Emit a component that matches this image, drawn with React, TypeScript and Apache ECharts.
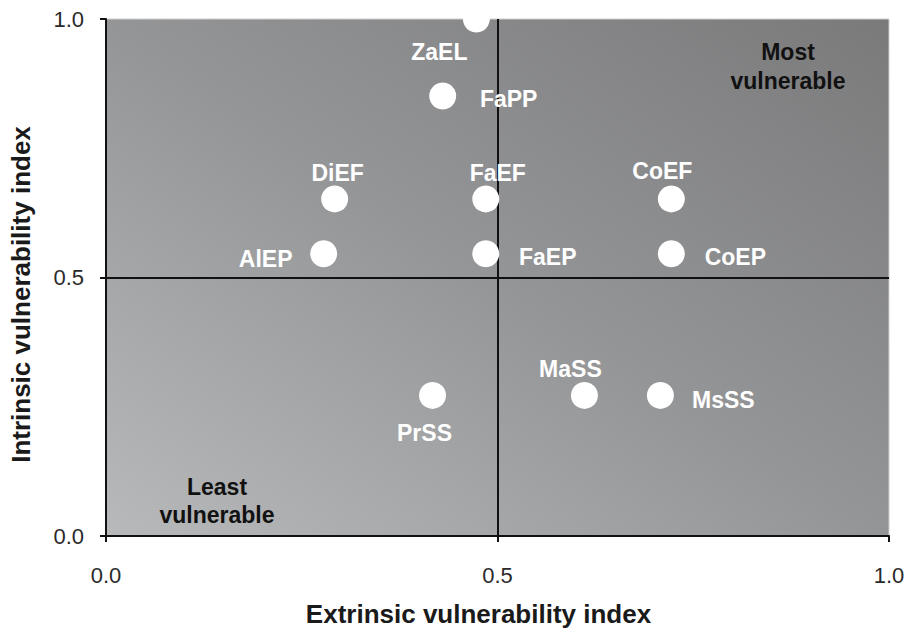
import React, { useEffect, useRef } from "react";
import * as echarts from "echarts";

const names = ["ZaEL", "FaPP", "DiEF", "FaEF", "CoEF", "AlEP", "FaEP", "CoEP", "PrSS", "MaSS", "MsSS"];
const extrinsic = [0.473, 0.430, 0.292, 0.485, 0.722, 0.278, 0.485, 0.722, 0.417, 0.611, 0.708];
const intrinsic = [1.0, 0.851, 0.652, 0.652, 0.652, 0.546, 0.546, 0.546, 0.272, 0.272, 0.272];
const labelOffsets: [number, number][] = [
  [-37, 33], [66, 3], [3, -26], [12, -26], [-9, -28], [-58, 5], [62, 3], [64, 3], [-8, 38], [-14, -26], [63, 5],
];
const axisTicks = [0, 0.5, 1];

export default function App() {
  const ref = useRef<HTMLDivElement>(null);
  useEffect(() => {
    if (!ref.current) return;
    const chart = echarts.init(ref.current, null, { renderer: "svg" });
    const font = "'Liberation Sans', Arial, Helvetica, sans-serif";
    const data = names.map((n, i) => ({
      name: n,
      value: [extrinsic[i], intrinsic[i]],
      label: { offset: labelOffsets[i] },
    }));
    chart.setOption({
      animation: false,
      textStyle: { fontFamily: font },
      grid: {
        left: 104,
        right: 21,
        top: 19,
        bottom: 94,
        show: true,
        borderColor: "#cfcfcf",
        borderWidth: 1,
        backgroundColor: new echarts.graphic.LinearGradient(0, 1, 1, 0, [
          { offset: 0, color: "#b8b9bb" },
          { offset: 0.5, color: "#949597" },
          { offset: 1, color: "#7a7a7b" },
        ]),
      },
      xAxis: {
        type: "value",
        min: axisTicks[0],
        max: axisTicks[2],
        interval: 0.5,
        name: "Extrinsic vulnerability index",
        nameLocation: "middle",
        nameGap: 65,
        nameTextStyle: {
          fontSize: 26,
          fontWeight: "bold",
          color: "#1a1a1a",
          fontFamily: font,
          padding: [0, 38, 0, 0],
        },
        axisLine: { show: true, lineStyle: { color: "#111", width: 2 } },
        axisTick: { show: true, length: 6, lineStyle: { color: "#111", width: 2 } },
        axisLabel: { fontSize: 22, color: "#2a2a2a", margin: 28, formatter: (v: number) => v.toFixed(1), fontFamily: font },
        splitLine: { show: false },
      },
      yAxis: {
        type: "value",
        min: axisTicks[0],
        max: axisTicks[2],
        interval: 0.5,
        name: "Intrinsic vulnerability index",
        nameLocation: "middle",
        nameGap: 72,
        nameTextStyle: {
          fontSize: 26,
          fontWeight: "bold",
          color: "#1a1a1a",
          fontFamily: font,
          padding: [0, 34, 0, 0],
        },
        axisLine: { show: true, lineStyle: { color: "#111", width: 2 } },
        axisTick: { show: true, length: 6, lineStyle: { color: "#111", width: 2 } },
        axisLabel: { fontSize: 22, color: "#2a2a2a", margin: 22, formatter: (v: number) => v.toFixed(1), fontFamily: font },
        splitLine: { show: false },
      },
      series: [
        {
          type: "scatter",
          symbol: "circle",
          symbolSize: 27,
          clip: false,
          z: 5,
          itemStyle: { color: "#ffffff", opacity: 1 },
          label: {
            show: true,
            position: "inside",
            formatter: "{b}",
            color: "#ffffff",
            fontSize: 23,
            fontWeight: "bold",
            fontFamily: font,
          },
          data,
          markLine: {
            silent: true,
            symbol: "none",
            label: { show: false },
            lineStyle: { color: "#111", width: 2, type: "solid" },
            data: [{ xAxis: 0.5 }, { yAxis: 0.5 }],
            z: 3,
          },
        },
      ],
      graphic: [
        {
          type: "text",
          x: 788,
          y: 37,
          style: {
            text: "Most\nvulnerable",
            fill: "#111",
            font: `bold 23px ${font}`,
            align: "center",
            verticalAlign: "top",
            lineHeight: 29,
          },
          z: 10,
        },
        {
          type: "text",
          x: 217,
          y: 473,
          style: {
            text: "Least\nvulnerable",
            fill: "#111",
            font: `bold 23px ${font}`,
            align: "center",
            verticalAlign: "top",
            lineHeight: 28,
          },
          z: 10,
        },
      ],
    });
    return () => chart.dispose();
  }, []);
  return <div ref={ref} style={{ width: 910, height: 632, position: "absolute", left: 0, top: 0 }} />;
}
